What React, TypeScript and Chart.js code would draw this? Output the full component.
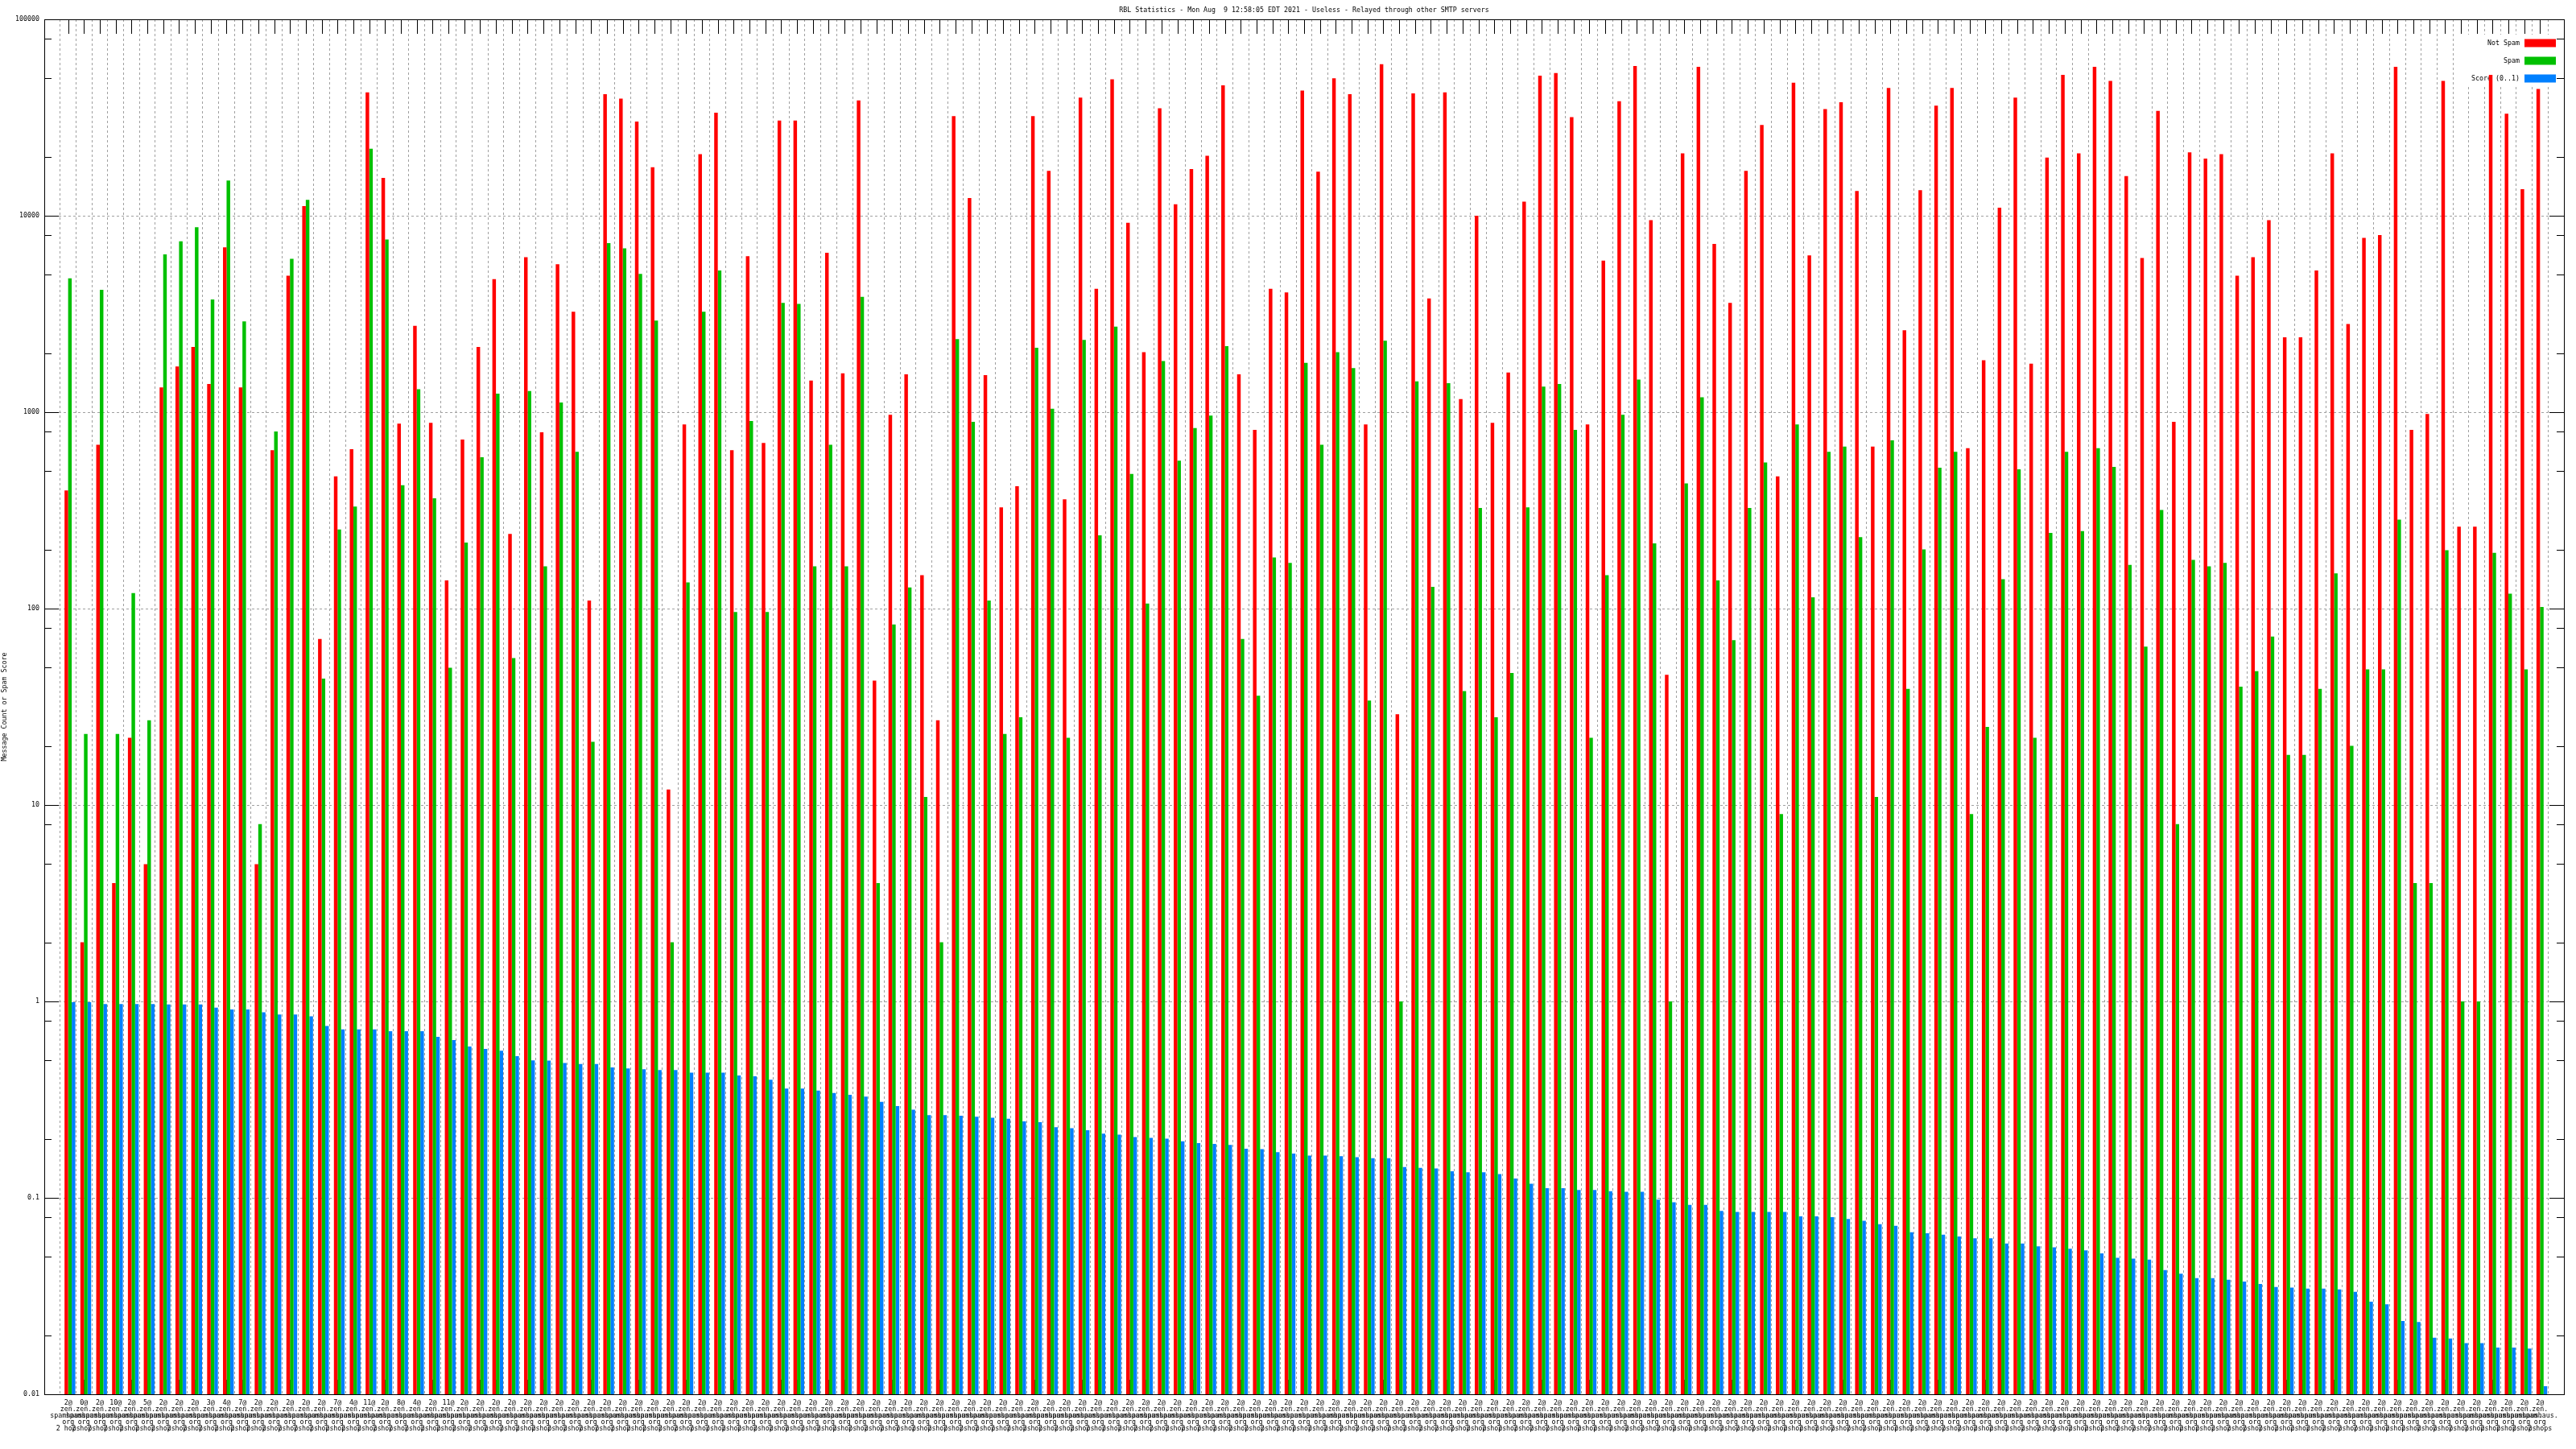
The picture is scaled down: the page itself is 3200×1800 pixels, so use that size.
import React, { useEffect, useRef } from 'react';
import { Chart, registerables } from 'chart.js';

Chart.register(...registerables);

const TITLE = 'RBL Statistics - Mon Aug  9 12:58:05 EDT 2021 - Useless - Relayed through other SMTP servers';
const Y_TITLE = 'Message Count or Spam Score';
const SERIES_NAMES = ['Not Spam', 'Spam', 'Score (0..1)'];
const SERIES_COLORS = ['#ff0000', '#00c000', '#0080ff'];
const FONT_FAMILY = '"DejaVu Sans Mono", "Liberation Mono", monospace';

const notSpam = [
  399, 2, 682, 4, 22, 5, 1336, 1710, 2148, 1391,
  6900, 1336, 5, 641, 4955, 11200, 70, 471, 648, 42460,
  15600, 874, 2750, 883, 139, 726, 2148, 4757, 240, 6155,
  789, 5666, 3246, 110, 41590, 39450, 30200, 17650, 12, 865,
  20600, 33480, 641, 6220, 697, 30500, 30500, 1449, 6480, 1575,
  38660, 43, 970, 1559, 148, 27, 32130, 12300, 1543, 328,
  420, 32130, 16940, 360, 39900, 4244, 49550, 9210, 2018, 35250,
  11430, 17290, 20180, 46100, 1559, 813, 4244, 4073, 43350, 16760,
  50100, 41590, 865, 59060, 29, 42000, 3788, 42460, 1167, 10000,
  883, 1592, 11800, 51650, 53250, 31790, 865, 5905, 38280, 57830,
  9500, 46, 20800, 57270, 7190, 3597, 16940, 28970, 471, 47550,
  6280, 34890, 37850, 13360, 668, 44680, 2612, 13490, 36360, 44680,
  655, 1839, 10980, 39900, 1764, 19770, 52150, 20800, 57270, 48530,
  15920, 6090, 34180, 893, 21040, 19530, 20600, 4955, 6155, 9500,
  2405, 2405, 5270, 20800, 2808, 7720, 7970, 57270, 813, 980,
  48530, 261, 261, 52150, 33110, 13650, 44230,
];

const spam = [
  4805, 23, 4200, 23, 120, 27, 6350, 7410, 8740, 3750,
  15100, 2897, 8, 797, 6030, 12050, 44, 253, 331, 21930,
  7570, 425, 1308, 364, 50, 217, 590, 1242, 56, 1282,
  164, 1120, 628, 21, 7260, 6820, 5060, 2927, 2, 136,
  3246, 5270, 96, 902, 96, 3597, 3560, 164, 682, 164,
  3866, 4, 83, 128, 11, 2, 2357, 893, 110, 23,
  28, 2125, 1042, 22, 2333, 236, 2723, 485, 106, 1820,
  567, 830, 960, 2170, 70, 36, 182, 171, 1783, 682,
  2018, 1675, 34, 2308, 1, 1435, 129, 1406, 38, 325,
  28, 47, 328, 1349, 1391, 813, 22, 148, 970, 1465,
  215, 1, 434, 1192, 139, 69, 325, 555, 9, 865,
  114, 628, 668, 231, 11, 719, 39, 200, 522, 628,
  9, 25, 141, 512, 22, 243, 628, 248, 655, 527,
  167, 64, 318, 8, 177, 164, 171, 40, 48, 72,
  18, 18, 39, 151, 20, 49, 49, 284, 4, 4,
  198, 1, 1, 192, 119, 49, 102,
];

const score = [
  0.99, 0.99, 0.97, 0.97, 0.97, 0.97, 0.965, 0.965, 0.965, 0.93,
  0.91, 0.91, 0.88, 0.857, 0.857, 0.84, 0.75, 0.72, 0.72, 0.72,
  0.705, 0.705, 0.705, 0.66, 0.635, 0.59, 0.573, 0.561, 0.527, 0.501,
  0.5, 0.486, 0.48, 0.48, 0.461, 0.456, 0.452, 0.447, 0.447, 0.434,
  0.434, 0.434, 0.42, 0.416, 0.399, 0.36, 0.36, 0.352, 0.342, 0.335,
  0.328, 0.308, 0.293, 0.281, 0.264, 0.264, 0.262, 0.259, 0.256, 0.253,
  0.245, 0.243, 0.229, 0.226, 0.221, 0.212, 0.21, 0.204, 0.202, 0.2,
  0.194, 0.19, 0.188, 0.186, 0.178, 0.177, 0.171, 0.168, 0.164, 0.164,
  0.163, 0.161, 0.159, 0.159, 0.1436, 0.142, 0.141, 0.1365, 0.135, 0.135,
  0.132, 0.1255, 0.118, 0.112, 0.112, 0.1097, 0.1097, 0.108, 0.1074, 0.1074,
  0.098, 0.095, 0.092, 0.092, 0.0857, 0.0848, 0.0848, 0.0848, 0.0848, 0.0805,
  0.0805, 0.0797, 0.078, 0.0764, 0.0735, 0.072, 0.0668, 0.066, 0.0649, 0.0636,
  0.0622, 0.0622, 0.0585, 0.0585, 0.0566, 0.056, 0.055, 0.054, 0.0521, 0.0495,
  0.049, 0.0485, 0.0429, 0.0411, 0.039, 0.039, 0.0383, 0.0375, 0.0364, 0.0352,
  0.0349, 0.0345, 0.0345, 0.0342, 0.0332, 0.0296, 0.0287, 0.0236, 0.0233, 0.0194,
  0.0192, 0.0182, 0.0182, 0.0173, 0.0173, 0.0171, 0.011,
];

// x tick label lines (first line: weight, middle: RBL host parts, last: hops)
const labelWeights = [
  '2@', '0@', '2@', '10@', '2@', '5@', '2@', '2@', '2@', '3@',
  '4@', '7@', '2@', '2@', '2@', '2@', '2@', '7@', '4@', '11@',
  '2@', '8@', '4@', '2@', '11@',
];
const labelHostParts = ['zen.', 'spamhaus.', 'org'];
const labelHops = '2 hops';

const yTickValues = [0.01, 0.1, 1, 10, 100, 1000, 10000, 100000];
const yTickLabels = ['0.01', '0.1', '1', '10', '100', '1000', '10000', '100000'];
const yMinorFactors = [2, 5, 8];

export default function App() {
  const canvasRef = useRef<HTMLCanvasElement | null>(null);

  useEffect(() => {
    const canvas = canvasRef.current;
    if (!canvas) return;
    const n = notSpam.length;
    const labelLines = notSpam.map((_, i) => [labelWeights[i] ?? '2@', ...labelHostParts, labelHops]);

    const gnuplotLook = {
      id: 'gnuplotLook',
      beforeDatasetsDraw(chart: any) {
        const { ctx, chartArea: a, scales } = chart;
        const xs = scales.x;
        const ys = scales.y;
        ctx.save();
        ctx.fillStyle = '#ffffff';
        ctx.fillRect(a.right - 119, a.top + 19, 109, 63);
        ctx.font = `8.3px ${FONT_FAMILY}`;
        ctx.textAlign = 'right';
        ctx.textBaseline = 'middle';
        SERIES_NAMES.forEach((name, k) => {
          const cy = a.top + 29.5 + k * 22;
          ctx.fillStyle = '#000000';
          ctx.fillText(name, a.right - 55, cy);
          ctx.fillStyle = SERIES_COLORS[k];
          ctx.fillRect(a.right - 49, cy - 5, 39, 10);
        });
        ctx.strokeStyle = '#000000';
        ctx.lineWidth = 1;
        ctx.beginPath();
        yTickValues.forEach((v, k) => {
          const py = Math.round(ys.getPixelForValue(v)) + 0.5;
          ctx.moveTo(a.left, py); ctx.lineTo(a.left + 18, py);
          ctx.moveTo(a.right, py); ctx.lineTo(a.right - 18, py);
          if (k < yTickValues.length - 1) {
            yMinorFactors.forEach((f) => {
              const pm = Math.round(ys.getPixelForValue(v * f)) + 0.5;
              ctx.moveTo(a.left, pm); ctx.lineTo(a.left + 9, pm);
              ctx.moveTo(a.right, pm); ctx.lineTo(a.right - 9, pm);
            });
          }
        });
        for (let i = 0; i < n; i++) {
          const px = Math.round(xs.getPixelForValue(i)) + 0.5;
          ctx.moveTo(px, a.top); ctx.lineTo(px, a.top + 18);
          ctx.moveTo(px, a.bottom); ctx.lineTo(px, a.bottom - 18);
        }
        ctx.stroke();
        ctx.restore();
        ctx.save();
        ctx.translate(2.2, 0);
      },
      afterDatasetsDraw(chart: any) {
        const { ctx, chartArea: a } = chart;
        ctx.restore();
        ctx.save();
        ctx.strokeStyle = '#000000';
        ctx.lineWidth = 1;
        ctx.strokeRect(Math.round(a.left) + 0.5, Math.round(a.top) + 0.5,
          Math.round(a.right - a.left), Math.round(a.bottom - a.top));
        ctx.restore();
      },
      afterDraw(chart: any) {
        const { ctx, chartArea: a } = chart;
        ctx.save();
        ctx.font = `8.3px ${FONT_FAMILY}`;
        ctx.fillStyle = '#000000';
        ctx.textAlign = 'center';
        ctx.textBaseline = 'middle';
        ctx.fillText(TITLE, (a.left + a.right) / 2, 13);
        ctx.restore();
      },
    };

    const chart = new Chart(canvas, {
      type: 'bar',
      data: {
        datasets: [
          { label: SERIES_NAMES[0], data: notSpam.map((v, i) => ({ x: i, y: v })), backgroundColor: SERIES_COLORS[0] },
          { label: SERIES_NAMES[1], data: spam.map((v, i) => ({ x: i, y: v })), backgroundColor: SERIES_COLORS[1] },
          { label: SERIES_NAMES[2], data: score.map((v, i) => ({ x: i, y: v })), backgroundColor: SERIES_COLORS[2] },
        ],
      },
      options: {
        animation: false,
        responsive: false,
        events: [],
        layout: { padding: { left: 0, right: 15, top: 24, bottom: 0 }, autoPadding: false },
        datasets: {
          bar: { categoryPercentage: 0.68, barPercentage: 1.0, borderWidth: 0 },
        },
        plugins: {
          legend: { display: false },
          tooltip: { enabled: false },
          title: { display: false },
        },
        scales: {
          x: {
            type: 'linear',
            min: -1,
            max: n,
            afterBuildTicks: (s: any) => { s.ticks = notSpam.map((_, i) => ({ value: i })); },
            afterFit: (s: any) => { s.height = 68; s.paddingLeft = 0; s.paddingRight = 0; },
            grid: { display: true, drawTicks: false, color: '#a0a0a0', lineWidth: 1 },
            border: { display: false, dash: [3, 3] },
            ticks: {
              autoSkip: false,
              maxRotation: 0,
              minRotation: 0,
              padding: 7,
              color: '#000000',
              font: { family: FONT_FAMILY, size: 8.3, lineHeight: '8px' },
              callback: (v: any) => labelLines[v] ?? '',
            },
          },
          y: {
            type: 'logarithmic',
            min: 0.01,
            max: 100000,
            afterBuildTicks: (s: any) => { s.ticks = yTickValues.map((v) => ({ value: v })); },
            afterFit: (s: any) => { s.width = 55; s.paddingTop = 0; s.paddingBottom = 0; },
            grid: { display: true, drawTicks: false, color: '#a0a0a0', lineWidth: 1 },
            border: { display: false, dash: [3, 3] },
            ticks: {
              padding: 6,
              color: '#000000',
              font: { family: FONT_FAMILY, size: 8.3 },
              callback: (v: any) => {
                const k = yTickValues.indexOf(Number(v));
                return k >= 0 ? yTickLabels[k] : '';
              },
            },
            title: {
              display: true,
              text: Y_TITLE,
              color: '#000000',
              font: { family: FONT_FAMILY, size: 8.3, lineHeight: '8px' },
              padding: { top: 2, bottom: 0 },
            },
          },
        },
      },
      plugins: [gnuplotLook],
    } as any);

    return () => chart.destroy();
  }, []);

  return (
    <div style={{ position: 'absolute', left: 0, top: 0, width: 3200, height: 1800, background: '#ffffff' }}>
      <canvas ref={canvasRef} width={3200} height={1800} style={{ display: 'block', width: 3200, height: 1800 }} />
    </div>
  );
}
